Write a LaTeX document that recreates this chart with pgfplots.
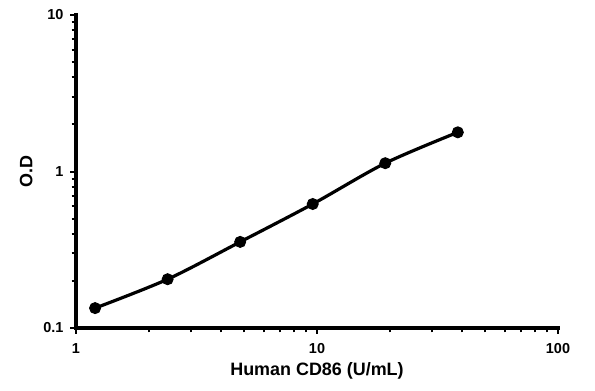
\documentclass[border=0pt]{standalone}
\usepackage{pgfplots}
\pgfplotsset{compat=1.18}
\usepackage{fontspec}
\setmainfont{Liberation Sans}
\begin{document}
\begin{tikzpicture}
\begin{loglogaxis}[
  scale only axis,
  width=482bp, height=313bp,
  xmin=1, xmax=100, ymin=0.1, ymax=10,
  axis x line*=bottom, axis y line*=left,
  every tick/.style={black, line width=2bp},
  major tick length=6bp, minor tick length=4.5bp,
  tick align=outside,
  xtick={1,10,100}, xticklabels={1,10,100},
  ytick={0.1,1,10}, yticklabels={0.1,1,10},
  tick label style={font=\fontsize{14.5}{16}\selectfont\bfseries},
  xticklabel style={yshift=-6bp},
  yticklabel style={xshift=-3bp},
  xlabel={Human CD86 (U/mL)},
  ylabel={O.D},
  label style={font=\fontsize{18}{20}\selectfont\bfseries},
  xlabel style={yshift=-2bp},
  ylabel style={yshift=4bp},
  clip=false,
]
\draw[black, line width=4bp, line cap=rect] (rel axis cs:0,1) -- (rel axis cs:0,0) -- (rel axis cs:1,0);
\addplot[black, line width=3.2bp, smooth, tension=0.5, mark=*, mark size=5.5bp, mark options={solid, fill=black, line width=1bp}]
coordinates {(1.2,0.134) (2.4,0.205) (4.8,0.355) (9.6,0.62) (19.2,1.13) (38.4,1.78)};
\end{loglogaxis}
\path (current axis.south west) +(-76bp,-63bp) (current axis.north east) +(37bp,15bp);
\end{tikzpicture}
\end{document}
